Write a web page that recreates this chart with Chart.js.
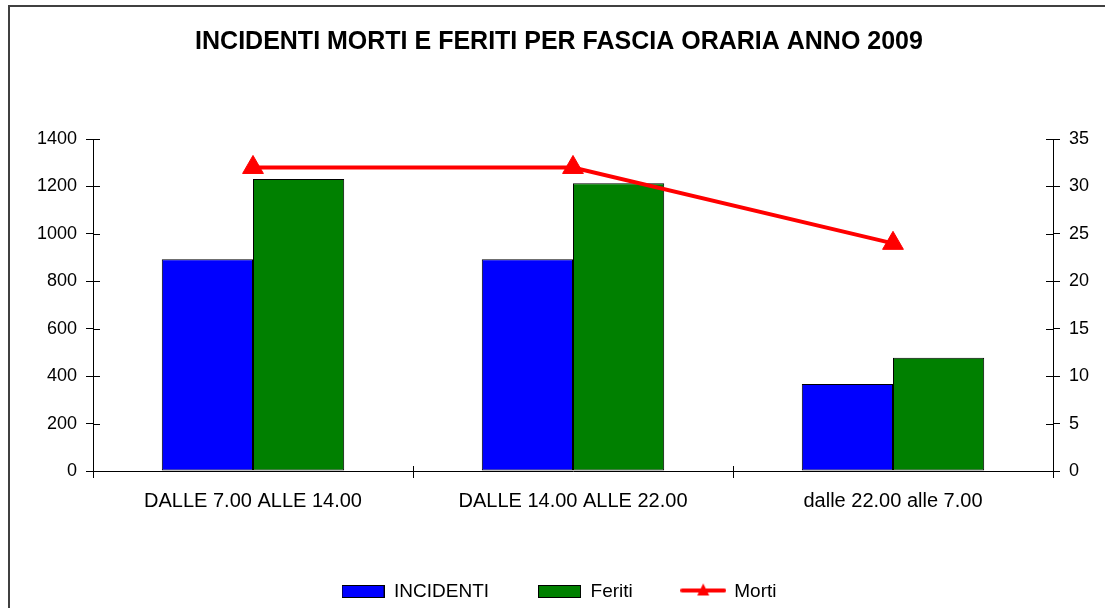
<!DOCTYPE html>
<html><head><meta charset="utf-8">
<script src="https://cdn.jsdelivr.net/npm/chart.js@4.4.1/dist/chart.umd.min.js"></script>
<style>html,body{margin:0;padding:0;background:#fff;overflow:hidden}#wrap{width:1105px;height:608px}</style>
</head><body><div id="wrap"><canvas id="c" width="1105" height="608"></canvas></div>
<script>
const titleText = 'INCIDENTI MORTI E FERITI PER FASCIA ORARIA ANNO 2009';
const categories = ['DALLE 7.00 ALLE 14.00', 'DALLE 14.00 ALLE 22.00', 'dalle 22.00 alle 7.00'];
const incidenti = [893, 893, 367];
const feriti = [1231, 1213, 478];
const morti = [32, 32, 24];
const leftTickLabels = ['0', '200', '400', '600', '800', '1000', '1200', '1400'];
const rightTickLabels = ['0', '5', '10', '15', '20', '25', '30', '35'];
const leftMax = 1400, leftStep = 200;
const rightMax = 35, rightStep = 5;

const FONT = '"Liberation Sans", Arial, Helvetica, sans-serif';
Chart.defaults.font.family = FONT;
Chart.defaults.color = '#000';

function boxImg(fill) {
  const c = document.createElement('canvas');
  c.width = 43; c.height = 13;
  const g = c.getContext('2d');
  g.fillStyle = fill; g.fillRect(0, 0, 43, 13);
  g.strokeStyle = '#000'; g.lineWidth = 1; g.strokeRect(0.5, 0.5, 42, 12);
  return c;
}
function lineImg() {
  const c = document.createElement('canvas');
  c.width = 46; c.height = 20;
  const g = c.getContext('2d');
  g.strokeStyle = '#FF0000'; g.lineWidth = 4; g.lineCap = 'round';
  g.beginPath(); g.moveTo(2, 9); g.lineTo(44, 9); g.stroke();
  g.fillStyle = '#FF0000';
  g.beginPath(); g.moveTo(23, 2); g.lineTo(29, 14); g.lineTo(17, 14); g.closePath(); g.fill();
  return c;
}
const legendImgs = [boxImg('#0000FF'), boxImg('#008000'), lineImg()];

const framePlugin = {
  id: 'frame',
  beforeDraw(chart) {
    const ctx = chart.ctx;
    ctx.save();
    ctx.fillStyle = '#fff';
    ctx.fillRect(0, 0, chart.width, chart.height);
    ctx.strokeStyle = '#404040';
    ctx.lineWidth = 2;
    ctx.beginPath();
    ctx.moveTo(9, chart.height); ctx.lineTo(9, 6); ctx.lineTo(chart.width, 6);
    ctx.stroke();
    ctx.restore();
  }
};

const legendShift = {
  id: 'legendShift',
  afterLayout(chart) {
    if (chart.legend) { chart.legend.top += 3; chart.legend.bottom += 3; }
  }
};

const innerTicks = {
  id: 'innerTicks',
  afterDraw(chart) {
    const ctx = chart.ctx;
    ctx.save();
    ctx.strokeStyle = '#000';
    ctx.lineWidth = 1;
    ctx.beginPath();
    const y = chart.scales.y, y1 = chart.scales.y1, x = chart.scales.x;
    y.ticks.forEach(t => {
      const p = Math.round(y.getPixelForValue(t.value)) + 0.5;
      ctx.moveTo(y.right, p); ctx.lineTo(y.right + 7, p);
    });
    y1.ticks.forEach(t => {
      const p = Math.round(y1.getPixelForValue(t.value)) + 0.5;
      ctx.moveTo(y1.left - 7, p); ctx.lineTo(y1.left, p);
    });
    for (let i = 0; i <= categories.length; i++) {
      const p = Math.round(x.getPixelForValue(i - 0.5)) + 0.5;
      ctx.moveTo(p, x.top - 5); ctx.lineTo(p, x.top);
    }
    ctx.stroke();
    ctx.restore();
  }
};

new Chart(document.getElementById('c'), {
  data: {
    labels: categories,
    datasets: [
      { type: 'bar', label: 'INCIDENTI', data: incidenti, backgroundColor: '#0000FF', borderColor: '#000', borderWidth: 1,
        borderSkipped: false, yAxisID: 'y', order: 2, categoryPercentage: 0.57, barPercentage: 1 },
      { type: 'bar', label: 'Feriti', data: feriti, backgroundColor: '#008000', borderColor: '#000', borderWidth: 1,
        borderSkipped: false, yAxisID: 'y', order: 2, categoryPercentage: 0.57, barPercentage: 1 },
      { type: 'line', label: 'Morti', data: morti, borderColor: '#FF0000', backgroundColor: '#FF0000', borderWidth: 4,
        pointStyle: 'triangle', pointRadius: 12, pointHoverRadius: 12, pointBackgroundColor: '#FF0000',
        pointBorderColor: '#FF0000', pointBorderWidth: 1, yAxisID: 'y1', order: 0, tension: 0, fill: false }
    ]
  },
  options: {
    responsive: false,
    animation: false,
    devicePixelRatio: 1,
    events: [],
    layout: { padding: { left: 13, right: 0, top: 0, bottom: 0 } },
    plugins: {
      tooltip: { enabled: false },
      title: {
        display: true, text: titleText, color: '#000',
        font: { size: 25, weight: 'bold', family: FONT },
        padding: { top: 27, bottom: 82 }
      },
      legend: {
        position: 'bottom',
        labels: {
          usePointStyle: true, pointStyleWidth: 43, padding: 49, color: '#000',
          font: { size: 19, family: FONT },
          sort: (a, b) => a.datasetIndex - b.datasetIndex,
          generateLabels(chart) {
            const items = Chart.defaults.plugins.legend.labels.generateLabels(chart);
            items.forEach(it => { it.pointStyle = legendImgs[it.datasetIndex]; });
            return items;
          }
        }
      }
    },
    scales: {
      x: {
        type: 'category', offset: true,
        grid: { offset: true, drawOnChartArea: false, drawTicks: true, tickLength: 7, color: '#000' },
        border: { color: '#000', width: 1 },
        ticks: { font: { size: 20 }, color: '#000', padding: 11, maxRotation: 0, autoSkip: false },
        afterFit(s) { s.height = 59; }
      },
      y: {
        type: 'linear', position: 'left', min: 0, max: leftMax,
        grid: { drawOnChartArea: false, tickLength: 7, color: '#000' },
        border: { color: '#000', width: 1 },
        ticks: { stepSize: leftStep, font: { size: 18 }, color: '#000', padding: 9,
          callback: (v, i) => leftTickLabels[i] },
        afterFit(s) { s.width = 80; }
      },
      y1: {
        type: 'linear', position: 'right', min: 0, max: rightMax,
        grid: { drawOnChartArea: false, tickLength: 7, color: '#000' },
        border: { color: '#000', width: 1 },
        ticks: { stepSize: rightStep, font: { size: 18 }, color: '#000', padding: 9,
          callback: (v, i) => rightTickLabels[i] },
        afterFit(s) { s.width = 52; }
      }
    }
  },
  plugins: [framePlugin, legendShift, innerTicks]
});
</script>
</body></html>
